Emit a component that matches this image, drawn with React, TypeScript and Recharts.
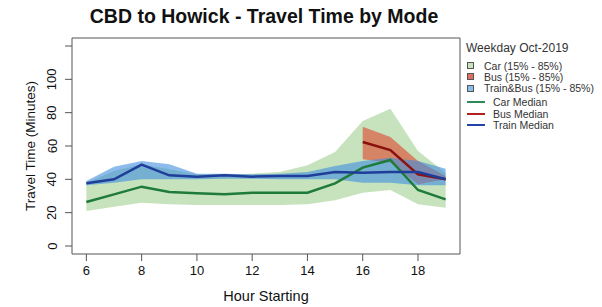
import {
  ComposedChart,
  Area,
  Line,
  XAxis,
  YAxis,
  ReferenceArea,
  Label,
} from "recharts";

const hours = [6, 7, 8, 9, 10, 11, 12, 13, 14, 15, 16, 17, 18, 19];

const carLow = [21, 23.5, 26, 25, 24.6, 24.6, 24.6, 24.6, 25, 27.4, 32, 33.6, 25, 23];
const carHigh = [38, 45, 49, 46, 43, 43, 43.4, 44.4, 48.4, 56.4, 75, 82.4, 57, 44];
const carMedian = [26.4, 31, 35.6, 32.4, 31.6, 31, 32, 32, 32, 37.6, 47, 51.6, 33.6, 28];

// bus only runs from 16:00
const busLow = [null, null, null, null, null, null, null, null, null, null, 52, 50, 37, 40];
const busHigh = [null, null, null, null, null, null, null, null, null, null, 71.6, 65.4, 51, 42];
const busMedian = [null, null, null, null, null, null, null, null, null, null, 62.4, 57.6, 43, 40];

const trainLow = [36.4, 38, 40, 40, 40, 40.4, 40.4, 40, 40, 40, 38, 38, 36.4, 36.5];
const trainHigh = [39, 47.6, 51, 49, 43.4, 43.4, 43, 43.4, 44.4, 48, 51, 53, 51, 46.4];
const trainMedian = [37.6, 40, 48.8, 42.4, 41.6, 42.4, 41.6, 42, 42, 44.4, 44, 44.4, 44.4, 40];

const xTicks = [6, 8, 10, 12, 14, 16, 18];
const yTicks = [0, 20, 40, 60, 80, 100, 120];

const data = hours.map((h, i) => ({
  hour: h,
  carBand: [carLow[i], carHigh[i]],
  carMed: carMedian[i],
  busBand: busLow[i] == null ? null : [busLow[i], busHigh[i]],
  busMed: busMedian[i],
  trainBand: [trainLow[i], trainHigh[i]],
  trainMed: trainMedian[i],
}));

const font = "'Liberation Sans', Arial, sans-serif";

const legendBoxes = [
  { label: "Car (15% - 85%)", color: "#c6e3bd" },
  { label: "Bus (15% - 85%)", color: "#e26c5e" },
  { label: "Train&Bus (15% - 85%)", color: "#8cbbec" },
];
const legendLines = [
  { label: "Car Median", color: "#2e8b57" },
  { label: "Bus Median", color: "#b22222" },
  { label: "Train Median", color: "#2342a8" },
];

const YTick = (props: any) => {
  const { x, y, payload } = props;
  if (payload.value === 120) return null;
  return (
    <text
      x={x - 11}
      y={y}
      transform={`rotate(-90 ${x - 11} ${y})`}
      textAnchor="middle"
      dominantBaseline="central"
      fontSize={13}
      fontFamily={font}
      fill="#111"
    >
      {payload.value}
    </text>
  );
};

const XTick = (props: any) => {
  const { x, y, payload } = props;
  return (
    <text x={x} y={y + 12} textAnchor="middle" fontSize={13} fontFamily={font} fill="#111">
      {payload.value}
    </text>
  );
};

export default function App() {
  return (
    <div style={{ position: "absolute", left: 0, top: 0, width: 602, height: 307, background: "#fff", fontFamily: font }}>
      <div
        style={{
          position: "absolute",
          left: 64,
          width: 400,
          top: 5,
          textAlign: "center",
          fontWeight: "bold",
          fontSize: 19.5,
          color: "#111",
          whiteSpace: "nowrap",
        }}
      >
        CBD to Howick - Travel Time by Mode
      </div>
      <ComposedChart
        width={602}
        height={307}
        data={data}
        margin={{ top: 38, right: 142, bottom: 1, left: 12 }}
      >
        <XAxis
          dataKey="hour"
          type="number"
          domain={[5.48, 19.52]}
          ticks={xTicks}
          allowDataOverflow
          axisLine={false}
          tickSize={7}
          tickLine={{ stroke: "#555" }}
          tick={<XTick />}
          height={52}
        >
          <Label value="Hour Starting" position="insideBottom" offset={-1} fontSize={14.5} fontFamily={font} fill="#111" dy={-6} />
        </XAxis>
        <YAxis
          type="number"
          domain={[-4.8, 124.8]}
          ticks={yTicks}
          allowDataOverflow
          axisLine={false}
          tickSize={7}
          tickLine={{ stroke: "#555" }}
          tick={<YTick />}
          width={60}
        >
          <Label
            value="Travel Time (Minutes)"
            angle={-90}
            position="insideLeft"
            offset={18}
            style={{ textAnchor: "middle" }}
            fontSize={13.5}
            fontFamily={font}
            fill="#111"
          />
        </YAxis>
        <Area type="linear" dataKey="carBand" fill="#c6e3bd" fillOpacity={1} stroke="none" isAnimationActive={false} />
        <Line type="linear" dataKey="carMed" stroke="#1e7b3a" strokeWidth={2.5} dot={false} isAnimationActive={false} />
        <Area type="linear" dataKey="busBand" fill="#e0442a" fillOpacity={0.6} stroke="none" isAnimationActive={false} />
        <Line type="linear" dataKey="busMed" stroke="#8b1010" strokeWidth={2.5} dot={false} isAnimationActive={false} />
        <Area type="linear" dataKey="trainBand" fill="#3f8ee0" fillOpacity={0.6} stroke="none" isAnimationActive={false} />
        <Line type="linear" dataKey="trainMed" stroke="#1f3d99" strokeWidth={2.5} dot={false} isAnimationActive={false} />
        <ReferenceArea x1={5.48} x2={19.52} y1={-4.8} y2={124.8} fill="none" stroke="#555" strokeWidth={1} ifOverflow="visible" />
      </ComposedChart>
      <div style={{ position: "absolute", left: 466, top: 40, color: "#333" }}>
        <div style={{ fontSize: 12, height: 16, lineHeight: "16px" }}>Weekday Oct-2019</div>
        <div style={{ height: 4 }} />
        {legendBoxes.map((it) => (
          <div key={it.label} style={{ display: "flex", alignItems: "center", height: 11.3, fontSize: 10.5 }}>
            <span
              style={{
                display: "inline-block",
                width: 5,
                height: 5,
                marginLeft: 1,
                marginRight: 10,
                background: it.color,
                border: "1px solid #555",
              }}
            />
            <span>{it.label}</span>
          </div>
        ))}
        <div style={{ height: 2.5 }} />
        {legendLines.map((it) => (
          <div key={it.label} style={{ display: "flex", alignItems: "center", height: 11.6, fontSize: 10.5 }}>
            <span
              style={{
                display: "inline-block",
                width: 18,
                height: 2,
                marginLeft: 1,
                marginRight: 8,
                background: it.color,
              }}
            />
            <span>{it.label}</span>
          </div>
        ))}
      </div>
    </div>
  );
}
